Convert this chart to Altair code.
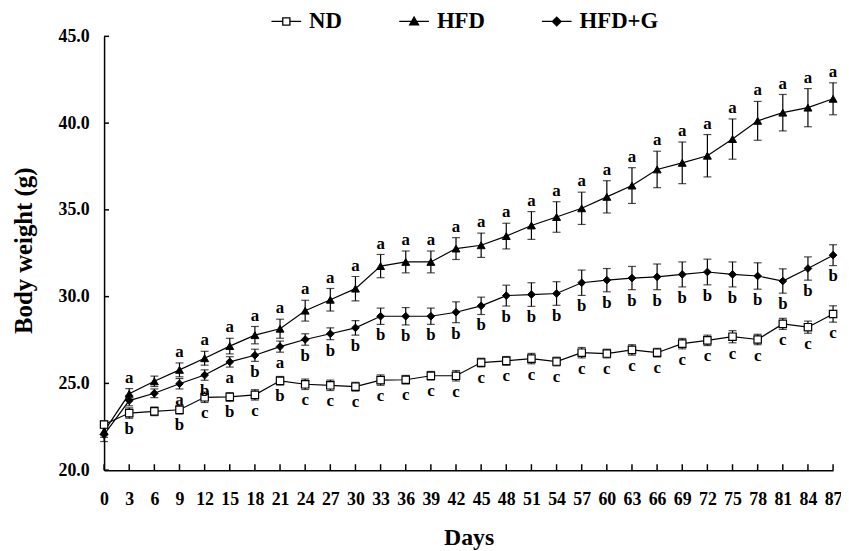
import altair as alt
import pandas as pd

days = [0, 3, 6, 9, 12, 15, 18, 21, 24, 27, 30, 33, 36, 39, 42, 45,
        48, 51, 54, 57, 60, 63, 66, 69, 72, 75, 78, 81, 84, 87]
groups = ["ND", "HFD", "HFD+G"]

nd_mean = [22.63, 23.29, 23.39, 23.48, 24.20, 24.22, 24.34, 25.15, 24.95, 24.89,
           24.81, 25.19, 25.21, 25.44, 25.44, 26.20, 26.30, 26.43, 26.26, 26.77,
           26.72, 26.93, 26.77, 27.29, 27.48, 27.69, 27.53, 28.43, 28.24, 29.00]
nd_err = [0.20, 0.30, 0.25, 0.25, 0.30, 0.25, 0.30, 0.25, 0.30, 0.30,
          0.25, 0.30, 0.25, 0.25, 0.30, 0.25, 0.25, 0.30, 0.25, 0.30,
          0.25, 0.30, 0.25, 0.30, 0.30, 0.35, 0.30, 0.32, 0.35, 0.47]
hfd_mean = [22.24, 24.40, 25.12, 25.78, 26.45, 27.15, 27.78, 28.15, 29.19, 29.82,
            30.46, 31.76, 32.00, 32.00, 32.77, 32.96, 33.49, 34.10, 34.59, 35.09,
            35.75, 36.40, 37.33, 37.71, 38.12, 39.08, 40.13, 40.60, 40.89, 41.40]
hfd_err = [0.35, 0.30, 0.30, 0.40, 0.40, 0.45, 0.50, 0.55, 0.60, 0.65,
           0.70, 0.67, 0.63, 0.63, 0.63, 0.70, 0.74, 0.80, 0.88, 0.93,
           0.93, 1.03, 1.05, 1.20, 1.22, 1.16, 1.12, 1.05, 1.10, 0.92]
hfdg_mean = [22.05, 24.01, 24.43, 24.98, 25.48, 26.24, 26.62, 27.12, 27.53, 27.86,
             28.20, 28.87, 28.87, 28.87, 29.10, 29.47, 30.06, 30.12, 30.18, 30.80,
             30.95, 31.07, 31.14, 31.28, 31.42, 31.28, 31.19, 30.90, 31.62, 32.39]
hfdg_err = [0.40, 0.30, 0.25, 0.30, 0.30, 0.30, 0.35, 0.32, 0.33, 0.34,
            0.42, 0.47, 0.50, 0.47, 0.60, 0.50, 0.60, 0.68, 0.68, 0.73,
            0.67, 0.67, 0.74, 0.72, 0.74, 0.72, 0.76, 0.70, 0.67, 0.60]

nd_letters = ["", "b", "", "b", "c", "b", "c", "b", "c", "c",
              "c", "c", "c", "c", "c", "c", "c", "c", "c", "c",
              "c", "c", "c", "c", "c", "c", "c", "c", "c", "c"]
hfd_letters = ["", "a", "", "a", "a", "a", "a", "a", "a", "a",
               "a", "a", "a", "a", "a", "a", "a", "a", "a", "a",
               "a", "a", "a", "a", "a", "a", "a", "a", "a", "a"]
hfdg_letters = ["", "", "", "a", "b", "a", "b", "a", "b", "b",
                "b", "b", "b", "b", "b", "b", "b", "b", "b", "b",
                "b", "b", "b", "b", "b", "b", "b", "b", "b", "b"]

y_ticks = [20, 25, 30, 35, 40, 45]

rows = []
for g, means, errs, letters in [("ND", nd_mean, nd_err, nd_letters),
                                ("HFD", hfd_mean, hfd_err, hfd_letters),
                                ("HFD+G", hfdg_mean, hfdg_err, hfdg_letters)]:
    for d, m, e, l in zip(days, means, errs, letters):
        rows.append({"group": g, "day": d, "mean": m, "lo": m - e, "hi": m + e, "letter": l})
df = pd.DataFrame(rows)

FONT = "Liberation Serif"
W, H = 736, 438

xscale = alt.Scale(domain=[0, 87], nice=False, zero=False)
yscale = alt.Scale(domain=[20, 45], nice=False, zero=False)
xaxis = alt.Axis(values=days, title="Days", labelFont=FONT, labelFontSize=18,
                 labelFontWeight="bold", labelColor="black", tickSize=0, labelPadding=21,
                 labelFlush=False, labelOverlap=False, labelAngle=0,
                 domainColor="black", domainWidth=1.5, grid=False,
                 titleFont=FONT, titleFontSize=24, titleFontWeight="bold", titleColor="black",
                 titleBaseline="alphabetic", titleY=75)
yaxis = alt.Axis(values=y_ticks, format=".1f", title="Body weight (g)", labelFont=FONT,
                 labelFontSize=18, labelFontWeight="bold", labelColor="black", tickSize=0,
                 labelPadding=15, labelFlush=False, domainColor="black", domainWidth=1.5,
                 grid=False, titleFont=FONT, titleFontSize=25, titleFontWeight="bold",
                 titleColor="black", titleAngle=270, titleBaseline="alphabetic",
                 titleX=-73, titleY=H / 2 - 3, titleAlign="center")

X = alt.X("day:Q", scale=xscale, axis=xaxis)

base = alt.Chart(df)

lines = base.mark_line(color="black", strokeWidth=1.2).encode(
    x=X, y=alt.Y("mean:Q", scale=yscale, axis=yaxis), detail="group:N", order="day:Q")

bars = base.mark_rule(color="black", strokeWidth=1.2).encode(
    x=X, y=alt.Y("lo:Q", scale=yscale, axis=yaxis), y2="hi:Q")
caps_lo = base.mark_tick(color="black", size=8, thickness=1.2, orient="horizontal").encode(
    x=X, y=alt.Y("lo:Q", scale=yscale, axis=yaxis))
caps_hi = base.mark_tick(color="black", size=8, thickness=1.2, orient="horizontal").encode(
    x=X, y=alt.Y("hi:Q", scale=yscale, axis=yaxis))

pt_nd = base.transform_filter("datum.group == 'ND'").mark_point(
    shape="square", filled=True, fill="white", stroke="black", strokeWidth=1.2, size=56, opacity=1
).encode(x=X, y=alt.Y("mean:Q", scale=yscale, axis=yaxis))
pt_hfd = base.transform_filter("datum.group == 'HFD'").mark_point(
    shape="triangle-up", filled=True, fill="black", stroke="black", strokeWidth=1, size=64, opacity=1
).encode(x=X, y=alt.Y("mean:Q", scale=yscale, axis=yaxis))
pt_hfdg = base.transform_filter("datum.group == 'HFD+G'").mark_point(
    shape="diamond", filled=True, fill="black", stroke="black", strokeWidth=1, size=60, opacity=1
).encode(x=X, y=alt.Y("mean:Q", scale=yscale, axis=yaxis))

txt_above = base.transform_filter("datum.group == 'HFD' && datum.letter != ''").mark_text(
    font=FONT, fontSize=17, fontWeight="bold", color="black", baseline="alphabetic", dy=-6
).encode(x=X, y=alt.Y("hi:Q", scale=yscale, axis=yaxis), text="letter:N")
txt_below = base.transform_filter("datum.group != 'HFD' && datum.letter != ''").mark_text(
    font=FONT, fontSize=17, fontWeight="bold", color="black", baseline="alphabetic", dy=16
).encode(x=X, y=alt.Y("lo:Q", scale=yscale, axis=yaxis), text="letter:N")

ytick_df = pd.DataFrame({"v": y_ticks})
xtick_df = pd.DataFrame({"v": days})
yticks = alt.Chart(ytick_df).mark_rule(color="black", strokeWidth=1.5).encode(
    y=alt.Y("v:Q", scale=yscale, axis=yaxis), x=alt.value(0), x2=alt.value(5))
xticks = alt.Chart(xtick_df).mark_rule(color="black", strokeWidth=1.5).encode(
    x=alt.X("v:Q", scale=xscale, axis=xaxis), y=alt.value(H), y2=alt.value(H - 6))

legend_paths = [
    "M-1,0H-0.24M0.24,0H1M-0.24,-0.24H0.24V0.24H-0.24Z",
    "M-1,0H1M0,-0.3L0.3,0.22L-0.3,0.22Z",
    "M-1,0H1M0,-0.29L0.29,0L0,0.29L-0.29,0Z",
]
leg = alt.Legend(orient="none", legendX=168, legendY=-31, direction="horizontal", title=None,
                 labelFont=FONT, labelFontSize=23, labelFontWeight="bold", labelColor="black",
                 symbolSize=900, symbolStrokeWidth=1.3, symbolStrokeColor="black",
                 labelOffset=7, columnPadding=54, padding=0, symbolOpacity=1)
legend_layer = base.transform_filter("datum.day < 0").mark_point(
    filled=False, strokeWidth=1.3, opacity=1
).encode(
    x=X, y=alt.Y("mean:Q", scale=yscale, axis=yaxis),
    shape=alt.Shape("group:N", scale=alt.Scale(domain=groups, range=legend_paths), legend=leg),
    fill=alt.Fill("group:N", scale=alt.Scale(domain=groups, range=["white", "black", "black"]), legend=leg),
    stroke=alt.Stroke("group:N", scale=alt.Scale(domain=groups, range=["black", "black", "black"]), legend=leg),
)

chart = alt.layer(lines, bars, caps_lo, caps_hi, pt_nd, pt_hfd, pt_hfdg,
                  txt_above, txt_below, yticks, xticks, legend_layer).properties(
    width=W, height=H,
    autosize=alt.AutoSizeParams(type="none"),
    padding={"left": 97, "top": 26, "right": 8, "bottom": 79},
).configure_view(stroke=None)

chart.save("out.html", embed_options={"renderer": "svg", "actions": False})
